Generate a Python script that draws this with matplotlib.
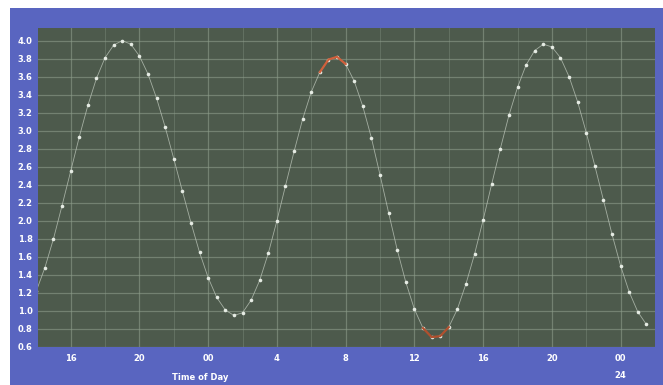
import numpy as np
import matplotlib.pyplot as plt
from matplotlib.patches import Rectangle

# tide height (m) every half hour, hours counted from midnight of day 1
hours = np.arange(14, 50, 0.5)
height = [1.22, 1.48, 1.80, 2.17, 2.55, 2.93, 3.28, 3.58, 3.81, 3.95, 4.00,
          3.96, 3.83, 3.63, 3.36, 3.04, 2.69, 2.33, 1.98, 1.65, 1.37, 1.15, 1.01, 0.95,
          0.98, 1.12, 1.34, 1.64, 2.00, 2.39, 2.77, 3.13, 3.43, 3.65, 3.79, 3.82,
          3.74, 3.55, 3.27, 2.92, 2.51, 2.09, 1.68, 1.32, 1.02, 0.81, 0.71,
          0.72, 0.82, 1.02, 1.30, 1.63, 2.01, 2.41, 2.80, 3.17, 3.48, 3.73, 3.89, 3.96,
          3.93, 3.81, 3.60, 3.32, 2.98, 2.61, 2.23, 1.85, 1.50, 1.21, 0.99, 0.85]

xticks = [16, 20, 24, 28, 32, 36, 40, 44, 48]
xlabels = ["16", "20", "00", "4", "8", "12", "16", "20", "00"]
yticks = [0.6, 0.8, 1.0, 1.2, 1.4, 1.6, 1.8, 2.0, 2.2, 2.4, 2.6, 2.8, 3.0,
          3.2, 3.4, 3.6, 3.8, 4.0]

# high/low water picked out in red
marked = [30.5, 31.0, 31.5, 32.0, 36.5, 37.0, 37.5, 38.0]

frame = "#5965c0"
panel = "#4d5a4c"
grid = "#8d9c8a"

fig = plt.figure(figsize=(6.63, 3.85), dpi=100)
fig.patch.set_facecolor(frame)
fig.patches.append(Rectangle((0, 0), 10 / 663, 1, transform=fig.transFigure,
                             facecolor="white", edgecolor="none"))
fig.patches.append(Rectangle((0, 1 - 8 / 385), 1, 8 / 385, transform=fig.transFigure,
                             facecolor="white", edgecolor="none"))

ax = fig.add_axes([38 / 663, 1 - 347 / 385, 617 / 663, 319 / 385])
ax.set_facecolor(panel)
ax.set_xlim(14.1, 50.0)
ax.set_ylim(0.62, 4.14)

ax.set_xticks(xticks)
ax.set_xticklabels(xlabels)
ax.set_xticks(np.arange(18, 50, 4), minor=True)
ax.set_yticks(yticks)
ax.set_yticklabels([f"{v:.1f}" for v in yticks])
ax.tick_params(axis="both", which="both", length=0, colors="white", labelsize=6)
ax.tick_params(axis="x", pad=5)
ax.tick_params(axis="y", pad=4)
for lab in ax.get_xticklabels() + ax.get_yticklabels():
    lab.set_fontweight("bold")

ax.grid(True, which="major", color=grid, linewidth=0.9, alpha=0.6)
ax.grid(True, which="minor", axis="x", color=grid, linewidth=0.7, alpha=0.35)
for s in ax.spines.values():
    s.set_visible(False)

ax.plot(hours, height, color="#c9d2c6", linewidth=0.6, alpha=0.7, zorder=3)
ax.plot(hours, height, "o", color="#e6ece4", markersize=2.6,
        markeredgewidth=0, zorder=4)
hi = [height[list(hours).index(h)] for h in marked]
ax.plot(marked[:4], hi[:4], color="#d0603c", linewidth=1.6, zorder=5)
ax.plot(marked[4:], hi[4:], color="#b0502e", linewidth=1.6, zorder=5)

fig.text(200 / 663, 1 - 378 / 385, "Time of Day", color="white", fontsize=6,
         fontweight="bold", ha="center", va="center")
fig.text(620 / 663, 1 - 376 / 385, "24", color="white", fontsize=6,
         fontweight="bold", ha="center", va="center")

fig.savefig("out.png", dpi=100, facecolor=fig.get_facecolor())
